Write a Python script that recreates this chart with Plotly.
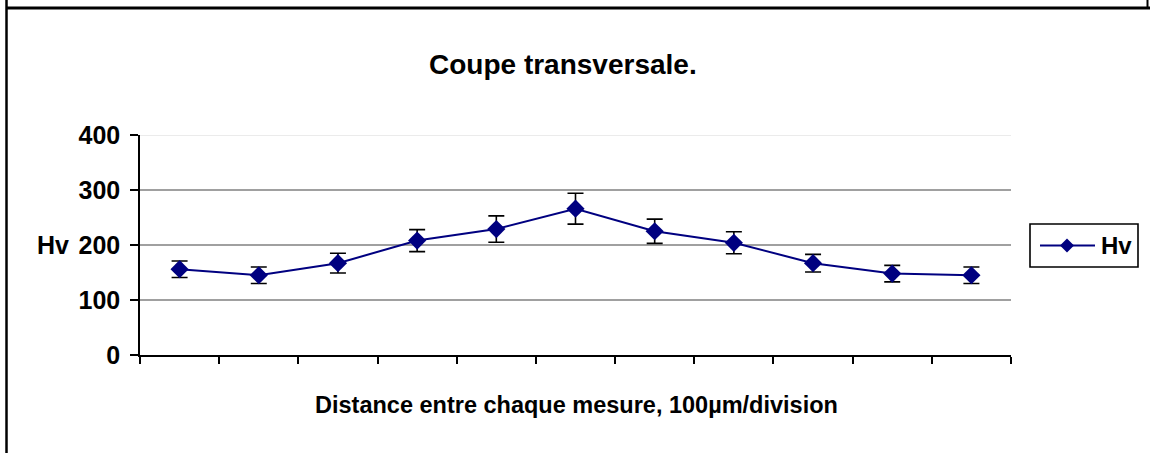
import plotly.graph_objects as go

# Vickers hardness profile across the section, one point per 100 µm step
positions = [1, 2, 3, 4, 5, 6, 7, 8, 9, 10, 11]
hv = [156, 145, 167, 208, 229, 266, 225, 204, 167, 148, 145]
hv_err = [15, 15, 18, 20, 24, 28, 22, 20, 16, 15, 15]
y_ticks = [0, 100, 200, 300, 400]
grid_levels = [100, 200, 300]
top_level = 400
series_name = "Hv"

W, H = 1156, 453
L, R, T, B = 140, 145, 135, 98
pw, ph = W - L - R, H - T - B


def px(x):
    return (x - L) / pw


def py(y):
    return (H - B - y) / ph


NAVY = "#000080"
BOLD = dict(family="Liberation Sans, Arial, sans-serif", color="black", weight="bold")

fig = go.Figure()
fig.add_trace(go.Scatter(
    x=positions, y=hv, name=series_name, mode="lines+markers", showlegend=False,
    line=dict(color=NAVY, width=2),
    marker=dict(symbol="diamond", size=14, color=NAVY),
    error_y=dict(type="data", array=hv_err, visible=True,
                 color="black", thickness=1.6, width=8),
))

shapes = []
for g in grid_levels:
    shapes.append(dict(type="line", xref="paper", yref="y", x0=0, x1=1, y0=g, y1=g,
                       line=dict(color="#808080", width=1.6), layer="below"))
shapes.append(dict(type="line", xref="paper", yref="y", x0=0, x1=1, y0=top_level, y1=top_level,
                   line=dict(color="#e4e4e4", width=1.6), layer="below"))
# outer frame pieces
shapes.append(dict(type="line", xref="paper", yref="paper", x0=px(6), x1=px(1150),
                   y0=py(8), y1=py(8), line=dict(color="black", width=3)))
shapes.append(dict(type="line", xref="paper", yref="paper", x0=px(6.5), x1=px(6.5),
                   y0=py(0), y1=py(H), line=dict(color="black", width=2.5)))
shapes.append(dict(type="line", xref="paper", yref="paper", x0=px(1147.5), x1=px(1147.5),
                   y0=py(0), y1=py(8), line=dict(color="black", width=2)))

# legend box with line-and-diamond sample
lx0, lx1, ly0, ly1 = 1030, 1138, 224, 267
lyc = (ly0 + ly1) / 2
shapes.append(dict(type="rect", xref="paper", yref="paper", x0=px(lx0), x1=px(lx1),
                   y0=py(ly1), y1=py(ly0), line=dict(color="black", width=1.6),
                   fillcolor="white"))
shapes.append(dict(type="line", xref="paper", yref="paper", x0=px(1040), x1=px(1095),
                   y0=py(lyc), y1=py(lyc), line=dict(color=NAVY, width=2)))
mx, d = 1067, 7
shapes.append(dict(type="path", xref="paper", yref="paper",
                   path=(f"M {px(mx - d)} {py(lyc)} L {px(mx)} {py(lyc - d)} "
                         f"L {px(mx + d)} {py(lyc)} L {px(mx)} {py(lyc + d)} Z"),
                   fillcolor=NAVY, line=dict(color=NAVY, width=0)))

annotations = [
    dict(text="Coupe transversale.", xref="paper", yref="paper", x=px(563), y=py(64),
         xanchor="center", yanchor="middle", showarrow=False, font=dict(size=28, **BOLD)),
    dict(text="Distance entre chaque mesure, 100µm/division", xref="paper", yref="paper",
         x=px(576), y=py(405), xanchor="center", yanchor="middle", showarrow=False,
         font=dict(size=23.5, **BOLD)),
    dict(text="Hv", xref="paper", yref="y", x=px(71), y=200, xanchor="right",
         yanchor="middle", showarrow=False, font=dict(size=25, **BOLD)),
    dict(text=series_name, xref="paper", yref="paper", x=px(1099), y=py(lyc),
         xanchor="left", yanchor="middle", showarrow=False, font=dict(size=24, **BOLD)),
]

fig.update_layout(
    width=W, height=H,
    margin=dict(l=L, r=R, t=T, b=B),
    paper_bgcolor="white", plot_bgcolor="white",
    showlegend=False,
    xaxis=dict(range=[0.5, 11.5], tickmode="array",
               tickvals=[p - 0.5 for p in positions] + [positions[-1] + 0.5],
               showticklabels=False, ticks="outside", ticklen=7, tickwidth=1.5,
               tickcolor="black", showline=True, linecolor="black", linewidth=2,
               showgrid=False, zeroline=False, fixedrange=True),
    yaxis=dict(range=[0, 400], tickmode="array", tickvals=y_ticks,
               ticks="outside", ticklen=8, tickwidth=1.5, tickcolor="black",
               showline=True, linecolor="black", linewidth=1.5,
               showgrid=False, zeroline=False, ticklabelstandoff=5,
               tickfont=dict(size=25, **BOLD)),
    shapes=shapes, annotations=annotations,
)

fig.write_html("out.html")
